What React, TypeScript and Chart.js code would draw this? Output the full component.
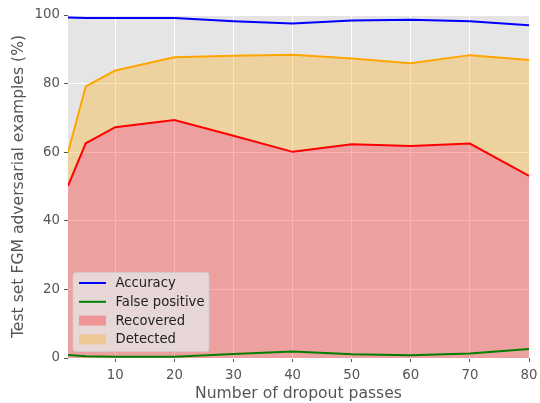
import React, { useEffect, useRef } from "react";
import { Chart, registerables } from "chart.js";
Chart.register(...registerables);

const passes = [2, 5, 10, 20, 30, 40, 50, 60, 70, 80];
const accuracy = [99.3, 99.1, 99.1, 99.1, 98.2, 97.5, 98.4, 98.6, 98.2, 97.0];
const falsePositive = [0.9, 0.5, 0.4, 0.4, 1.2, 1.9, 1.1, 0.8, 1.3, 2.6];
const recovered = [50.2, 62.6, 67.3, 69.4, 64.8, 60.1, 62.3, 61.8, 62.5, 53.1];
const detected = [59.9, 79.2, 83.8, 87.7, 88.1, 88.4, 87.3, 85.9, 88.3, 86.9];
const xTickValues = [10, 20, 30, 40, 50, 60, 70, 80];
const yTickValues = [0, 20, 40, 60, 80, 100];

const FONT = "'DejaVu Sans', sans-serif";
const TEXT = "#555555";

const pts = (ys: number[]) => passes.map((x, i) => ({ x, y: ys[i] }));

const bgPlugin = {
  id: "bg",
  beforeDraw(chart: any) {
    const { ctx, chartArea: a } = chart;
    ctx.save();
    ctx.fillStyle = "#E5E5E5";
    ctx.fillRect(a.left, a.top, a.right - a.left, a.bottom - a.top);
    ctx.restore();
  },
};

const legendPlugin = {
  id: "innerLegend",
  afterDraw(chart: any) {
    const { ctx, chartArea: a } = chart;
    const items = [
      { label: "Accuracy", type: "line", color: "#0000ff" },
      { label: "False positive", type: "line", color: "#008000" },
      { label: "Recovered", type: "patch", color: "rgba(255,0,0,0.3)" },
      { label: "Detected", type: "patch", color: "rgba(255,165,0,0.3)" },
    ];
    const x0 = a.left + 5;
    const y0 = a.bottom - 85.5;
    const w = 136;
    const h = 79;
    ctx.save();
    ctx.beginPath();
    const r = 3;
    ctx.moveTo(x0 + r, y0);
    ctx.lineTo(x0 + w - r, y0);
    ctx.quadraticCurveTo(x0 + w, y0, x0 + w, y0 + r);
    ctx.lineTo(x0 + w, y0 + h - r);
    ctx.quadraticCurveTo(x0 + w, y0 + h, x0 + w - r, y0 + h);
    ctx.lineTo(x0 + r, y0 + h);
    ctx.quadraticCurveTo(x0, y0 + h, x0, y0 + h - r);
    ctx.lineTo(x0, y0 + r);
    ctx.quadraticCurveTo(x0, y0, x0 + r, y0);
    ctx.closePath();
    ctx.fillStyle = "rgba(229,229,229,0.8)";
    ctx.fill();
    ctx.strokeStyle = "rgba(204,204,204,0.8)";
    ctx.lineWidth = 1;
    ctx.stroke();
    ctx.font = `13.2px ${FONT}`;
    ctx.textBaseline = "middle";
    ctx.textAlign = "left";
    items.forEach((it, i) => {
      const cy = y0 + 10.5 + i * 18.8;
      const hx0 = x0 + 6;
      const hx1 = x0 + 33;
      if (it.type === "line") {
        ctx.strokeStyle = it.color;
        ctx.lineWidth = 2;
        ctx.beginPath();
        ctx.moveTo(hx0, cy);
        ctx.lineTo(hx1, cy);
        ctx.stroke();
      } else {
        ctx.fillStyle = it.color;
        ctx.fillRect(hx0, cy - 5, hx1 - hx0, 10);
      }
      ctx.fillStyle = "#222222";
      ctx.fillText(it.label, x0 + 42.5, cy + 0.5);
    });
    ctx.restore();
  },
};

export default function App() {
  const ref = useRef<HTMLCanvasElement | null>(null);
  useEffect(() => {
    if (!ref.current) return;
    const chart = new Chart(ref.current, {
      type: "line",
      data: {
        datasets: [
          {
            label: "Accuracy",
            data: pts(accuracy),
            borderColor: "#0000ff",
            borderWidth: 2,
            pointRadius: 0,
            fill: false,
            tension: 0,
          },
          {
            label: "False positive",
            data: pts(falsePositive),
            borderColor: "#008000",
            borderWidth: 2,
            pointRadius: 0,
            fill: false,
            tension: 0,
          },
          {
            label: "Recovered",
            data: pts(recovered),
            borderColor: "#ff0000",
            backgroundColor: "rgba(255,0,0,0.3)",
            borderWidth: 2,
            pointRadius: 0,
            fill: "origin",
            tension: 0,
          },
          {
            label: "Detected",
            data: pts(detected),
            borderColor: "#ffa500",
            backgroundColor: "rgba(255,165,0,0.3)",
            borderWidth: 2,
            pointRadius: 0,
            fill: 2,
            tension: 0,
          },
        ],
      },
      options: {
        animation: false,
        responsive: false,
        maintainAspectRatio: false,
        layout: { padding: { top: 15, right: 11, left: 0, bottom: 0 } },
        plugins: { legend: { display: false }, tooltip: { enabled: false } },
        scales: {
          x: {
            type: "linear",
            min: 2,
            max: 80,
            afterBuildTicks: (s: any) => {
              s.ticks = xTickValues.map((v) => ({ value: v }));
            },
            afterFit: (s: any) => {
              s.height = 45;
              s.paddingLeft = 0;
              s.paddingRight = 0;
            },
            grid: { color: "#ffffff", lineWidth: 1, tickColor: TEXT, tickLength: 4 },
            border: { display: false },
            ticks: { color: TEXT, font: { family: FONT, size: 13.3 }, padding: 6, maxRotation: 0 },
            title: {
              display: true,
              text: "Number of dropout passes",
              color: TEXT,
              font: { family: FONT, size: 15.6 },
              padding: { top: 1, bottom: 0 },
            },
          },
          y: {
            type: "linear",
            min: 0,
            max: 100,
            afterBuildTicks: (s: any) => {
              s.ticks = yTickValues.map((v) => ({ value: v }));
            },
            afterFit: (s: any) => {
              s.width = 68;
              s.paddingTop = 0;
              s.paddingBottom = 0;
            },
            grid: { color: "#ffffff", lineWidth: 1, tickColor: TEXT, tickLength: 4 },
            border: { display: false },
            ticks: { color: TEXT, font: { family: FONT, size: 13.3 }, padding: 4 },
            title: {
              display: true,
              text: "Test set FGM adversarial examples (%)",
              color: TEXT,
              font: { family: FONT, size: 15.6 },
              padding: { top: 10, bottom: 0 },
            },
          },
        },
      },
      plugins: [bgPlugin, legendPlugin],
    } as any);
    return () => chart.destroy();
  }, []);
  return (
    <div style={{ position: "fixed", left: 0, top: 0, width: 540, height: 403, background: "#fff" }}>
      <canvas ref={ref} width={540} height={403} style={{ display: "block", width: 540, height: 403 }} />
    </div>
  );
}
